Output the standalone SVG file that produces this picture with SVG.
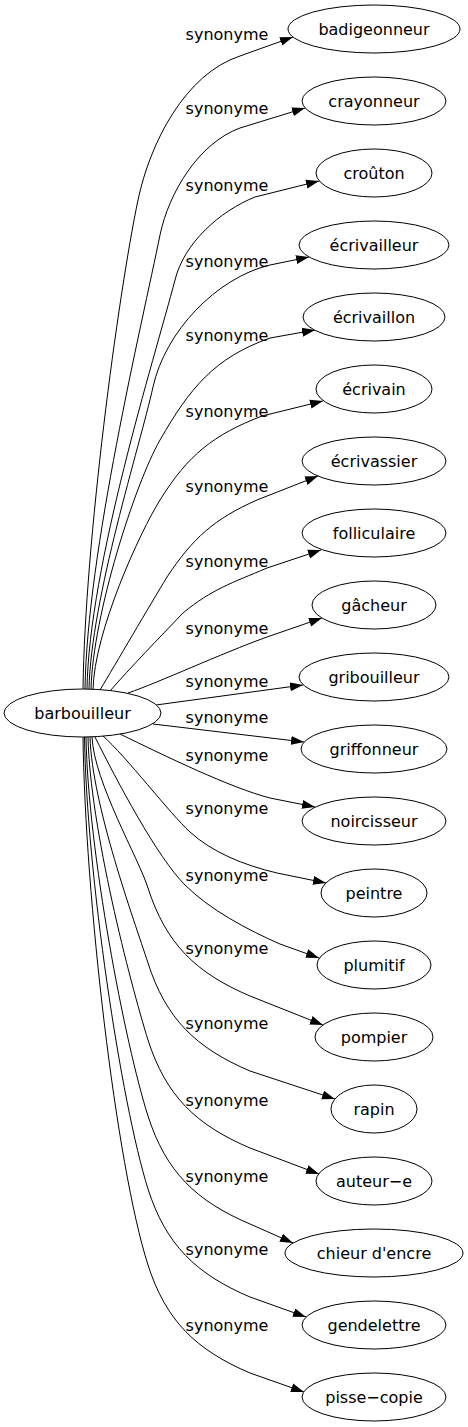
<svg xmlns="http://www.w3.org/2000/svg" width="468" height="1427" viewBox="0 0 468 1427">
<defs>
<marker id="ah" markerUnits="userSpaceOnUse" markerWidth="13" markerHeight="10" refX="13" refY="5" orient="auto" viewBox="0 0 13 10">
<path d="M0,0.5 L13,5 L0,9.5 Z" fill="#000"/>
</marker>
<style>
.n ellipse{fill:#fff;stroke:#000;stroke-width:1}
text{font-family:"DejaVu Sans",sans-serif;font-size:16px;fill:#000}
.n text,.l text{text-anchor:middle}
.e path{fill:none;stroke:#000;stroke-width:1;marker-end:url(#ah)}
</style>
</defs>
<rect width="468" height="1427" fill="#fff"/>
<g id="edges" class="e">
<path d="M83,689 C85,542 118,296 138,200 C150,143 185,74 240,56 L293,37"/>
<path d="M85,689 C87,553 142,324 160,235 C169,192 199,143 240,128 L305,108"/>
<path d="M87,689 C89,566 154,360 175,280 C184,243 220,211 255,197 L319,181"/>
<path d="M89,689 C91,598 140,446 153,387 C165,332 216,278 270,265 L309,257"/>
<path d="M91,689 C93,614 135,484 160,440 C190,388 214,358 270,338 L315,330"/>
<path d="M93,690 C94,632 140,532 160,500 C188,455 213,435 262,416 L323,401"/>
<path d="M100,690 C115,665 150,605 167,577 C193,538 214,519 257,500 L318,476"/>
<path d="M110,691 C130,668 160,637 183,613 C212,589 232,583 267,568 L321,550"/>
<path d="M128,693 C160,682 220,654 267,637 L322,618"/>
<path d="M156,705 L303,685"/>
<path d="M153,724 L304,742"/>
<path d="M120,734 C165,756 231,788 270,798 L315,807"/>
<path d="M103,736 C125,755 171,815 190,832 C212,852 243,865 277,873 L326,883"/>
<path d="M95,737 C117,781 157,857 185,885 C210,910 248,930 280,944 L319,958"/>
<path d="M92,737 C94,782 139,859 148,888 C166,944 196,973 250,996 L323,1025"/>
<path d="M90,737 C92,805 134,920 148,963 C166,1019 196,1048 250,1071 L335,1099"/>
<path d="M88,737 C90,828 130,982 148,1040 C166,1096 196,1125 250,1148 L319,1174"/>
<path d="M86,737 C88,851 125,1044 148,1116 C166,1172 196,1201 250,1224 L293,1243"/>
<path d="M84.5,737 C86.5,873 121,1103 148,1189 C166,1245 196,1274 250,1297 L306,1317"/>
<path d="M83,737 C85,895 116,1165 148,1265 C166,1321 196,1350 250,1373 L304,1392"/>
</g>
<g id="labels" class="l">
<text x="227" y="40">synonyme</text>
<text x="227" y="114">synonyme</text>
<text x="227" y="191">synonyme</text>
<text x="227" y="267">synonyme</text>
<text x="227" y="341">synonyme</text>
<text x="227" y="417">synonyme</text>
<text x="227" y="492">synonyme</text>
<text x="227" y="567">synonyme</text>
<text x="227" y="634">synonyme</text>
<text x="227" y="687">synonyme</text>
<text x="227" y="723">synonyme</text>
<text x="227" y="761">synonyme</text>
<text x="227" y="814">synonyme</text>
<text x="227" y="881">synonyme</text>
<text x="227" y="954">synonyme</text>
<text x="227" y="1029">synonyme</text>
<text x="227" y="1106">synonyme</text>
<text x="227" y="1182">synonyme</text>
<text x="227" y="1255">synonyme</text>
<text x="227" y="1331">synonyme</text>
</g>
<g id="barbouilleur" class="n"><ellipse cx="82.5" cy="713" rx="78.5" ry="24"/><text x="82.5" y="719">barbouilleur</text></g>
<g id="badigeonneur" class="n"><ellipse cx="374" cy="29" rx="86" ry="24"/><text x="374" y="35">badigeonneur</text></g>
<g id="crayonneur" class="n"><ellipse cx="374" cy="101" rx="72" ry="24"/><text x="374" y="107">crayonneur</text></g>
<g id="crouton" class="n"><ellipse cx="374" cy="173" rx="58" ry="24"/><text x="374" y="179">croûton</text></g>
<g id="ecrivailleur" class="n"><ellipse cx="374" cy="245" rx="75" ry="24"/><text x="374" y="251">écrivailleur</text></g>
<g id="ecrivaillon" class="n"><ellipse cx="374" cy="317" rx="71" ry="24"/><text x="374" y="323">écrivaillon</text></g>
<g id="ecrivain" class="n"><ellipse cx="374" cy="389" rx="58" ry="24"/><text x="374" y="395">écrivain</text></g>
<g id="ecrivassier" class="n"><ellipse cx="374" cy="461" rx="72" ry="24"/><text x="374" y="467">écrivassier</text></g>
<g id="folliculaire" class="n"><ellipse cx="374" cy="533" rx="72" ry="24"/><text x="374" y="539">folliculaire</text></g>
<g id="gacheur" class="n"><ellipse cx="374" cy="605" rx="62" ry="24"/><text x="374" y="611">gâcheur</text></g>
<g id="gribouilleur" class="n"><ellipse cx="374" cy="677" rx="75" ry="24"/><text x="374" y="683">gribouilleur</text></g>
<g id="griffonneur" class="n"><ellipse cx="374" cy="749" rx="73" ry="24"/><text x="374" y="755">griffonneur</text></g>
<g id="noircisseur" class="n"><ellipse cx="374" cy="821" rx="72" ry="24"/><text x="374" y="827">noircisseur</text></g>
<g id="peintre" class="n"><ellipse cx="374" cy="893" rx="53" ry="24"/><text x="374" y="899">peintre</text></g>
<g id="plumitif" class="n"><ellipse cx="374" cy="965" rx="57" ry="24"/><text x="374" y="971">plumitif</text></g>
<g id="pompier" class="n"><ellipse cx="374" cy="1037" rx="59" ry="24"/><text x="374" y="1043">pompier</text></g>
<g id="rapin" class="n"><ellipse cx="374" cy="1109" rx="43" ry="24"/><text x="374" y="1115">rapin</text></g>
<g id="auteur-e" class="n"><ellipse cx="374" cy="1181" rx="58" ry="24"/><text x="374" y="1187">auteur−e</text></g>
<g id="chieur-d-encre" class="n"><ellipse cx="374" cy="1253" rx="89" ry="24"/><text x="374" y="1259">chieur d'encre</text></g>
<g id="gendelettre" class="n"><ellipse cx="374" cy="1325" rx="72" ry="24"/><text x="374" y="1331">gendelettre</text></g>
<g id="pisse-copie" class="n"><ellipse cx="374" cy="1397" rx="72" ry="24"/><text x="374" y="1403">pisse−copie</text></g>
</svg>
